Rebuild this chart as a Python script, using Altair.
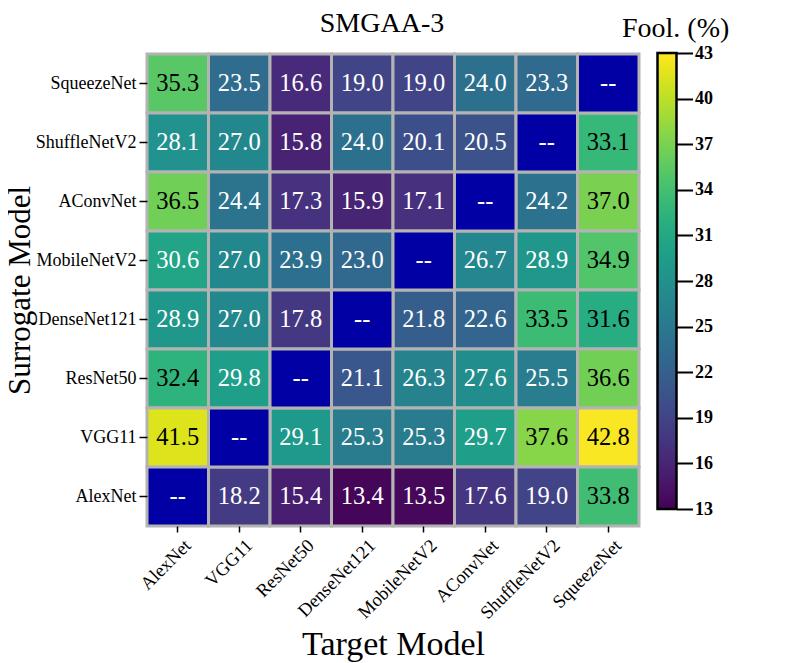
import altair as alt
import pandas as pd

surrogates = ["SqueezeNet", "ShuffleNetV2", "AConvNet", "MobileNetV2",
              "DenseNet121", "ResNet50", "VGG11", "AlexNet"]
targets = ["AlexNet", "VGG11", "ResNet50", "DenseNet121", "MobileNetV2",
           "AConvNet", "ShuffleNetV2", "SqueezeNet"]

row_squeezenet = [35.3, 23.5, 16.6, 19.0, 19.0, 24.0, 23.3, None]
row_shufflenet = [28.1, 27.0, 15.8, 24.0, 20.1, 20.5, None, 33.1]
row_aconvnet = [36.5, 24.4, 17.3, 15.9, 17.1, None, 24.2, 37.0]
row_mobilenet = [30.6, 27.0, 23.9, 23.0, None, 26.7, 28.9, 34.9]
row_densenet = [28.9, 27.0, 17.8, None, 21.8, 22.6, 33.5, 31.6]
row_resnet = [32.4, 29.8, None, 21.1, 26.3, 27.6, 25.5, 36.6]
row_vgg = [41.5, None, 29.1, 25.3, 25.3, 29.7, 37.6, 42.8]
row_alexnet = [None, 18.2, 15.4, 13.4, 13.5, 17.6, 19.0, 33.8]

rows = [row_squeezenet, row_shufflenet, row_aconvnet, row_mobilenet,
        row_densenet, row_resnet, row_vgg, row_alexnet]

cbar_ticks = [13, 16, 19, 22, 25, 28, 31, 34, 37, 40, 43]

cells, diag = [], []
for s, vals in zip(surrogates, rows):
    for t, v in zip(targets, vals):
        if v is None:
            diag.append({"surrogate": s, "target": t, "label": "--"})
        else:
            cells.append({"surrogate": s, "target": t, "value": v,
                          "label": f"{v:.1f}"})
df = pd.DataFrame(cells)
df_diag = pd.DataFrame(diag)
df_ticks = pd.DataFrame({"tick": cbar_ticks})

FONT = "Liberation Serif"
W, H = 492, 472

x_enc = alt.X("target:N", sort=targets, title="Target Model",
              axis=alt.Axis(labelAngle=315, labelAlign="right", labelBaseline="middle",
                            labelFontSize=18.5, labelFont=FONT, labelColor="black",
                            labelOffset=10, labelPadding=10,
                            titleFont=FONT, titleFontSize=34, titleFontWeight="normal",
                            titleColor="black", titlePadding=6,
                            tickSize=6, tickWidth=1.5, tickColor="black",
                            domain=False))
y_enc = alt.Y("surrogate:N", sort=surrogates, title="Surrogate Model",
              axis=alt.Axis(labelFontSize=18, labelFont=FONT, labelColor="black",
                            titleFont=FONT, titleFontSize=31, titleFontWeight="normal",
                            titleColor="black", titleX=-111, titleBaseline="bottom",
                            tickSize=8, tickWidth=1.5, tickColor="black",
                            domain=False, labelPadding=3))

heat = alt.Chart(df).mark_rect(stroke="#b3b3b3", strokeWidth=3).encode(
    x=x_enc, y=y_enc,
    color=alt.Color("value:Q",
                    scale=alt.Scale(scheme="viridis", domain=[13, 43]),
                    legend=alt.Legend(
                        title=None, orient="none",
                        legendX=510.5, legendY=-1,
                        gradientLength=456, gradientThickness=19,
                        gradientStrokeColor="black", gradientStrokeWidth=2.5,
                        labelOpacity=0)),
)

heat_diag = alt.Chart(df_diag).mark_rect(stroke="#b3b3b3", strokeWidth=3,
                                         color="#0000a5").encode(x=x_enc, y=y_enc)

text = alt.Chart(df).mark_text(font=FONT, fontSize=24.5).encode(
    x=x_enc, y=y_enc,
    text="label:N",
    color=alt.condition("datum.value > 31", alt.value("black"), alt.value("white")),
)

text_diag = alt.Chart(df_diag).mark_text(font=FONT, fontSize=24.5, color="white").encode(
    x=x_enc, y=y_enc, text="label:N")

grid = alt.layer(heat, heat_diag, text, text_diag)

cbar_axis = alt.Chart(df_ticks).mark_point(opacity=0).encode(
    y=alt.Y("tick:Q",
            scale=alt.Scale(domain=[13, 43], range=[455, -1]),
            axis=alt.Axis(orient="right", offset=37.5, values=cbar_ticks,
                          domain=False, grid=False, title="Fool. (%)",
                          titleAngle=0, titleX=-55, titleY=-18,
                          titleAlign="left", titleBaseline="alphabetic",
                          titleFont=FONT, titleFontSize=28, titleFontWeight="normal",
                          titleColor="black",
                          tickSize=16, tickWidth=2, tickColor="black",
                          labelFont=FONT, labelFontSize=18, labelFontWeight="bold",
                          labelColor="black", labelPadding=2)),
)

chart = alt.layer(grid, cbar_axis).resolve_scale(
    y="independent"
).resolve_axis(y="independent").properties(
    width=W, height=H,
    title=alt.TitleParams("SMGAA-3", font=FONT, fontSize=28, fontWeight="normal",
                          color="black", offset=-24, dx=-11),
    padding={"left": -4, "top": 2, "right": 5, "bottom": 2},
).configure_view(stroke="black", strokeWidth=2)

chart.save("out.html", embed_options={"renderer": "svg", "actions": False})
